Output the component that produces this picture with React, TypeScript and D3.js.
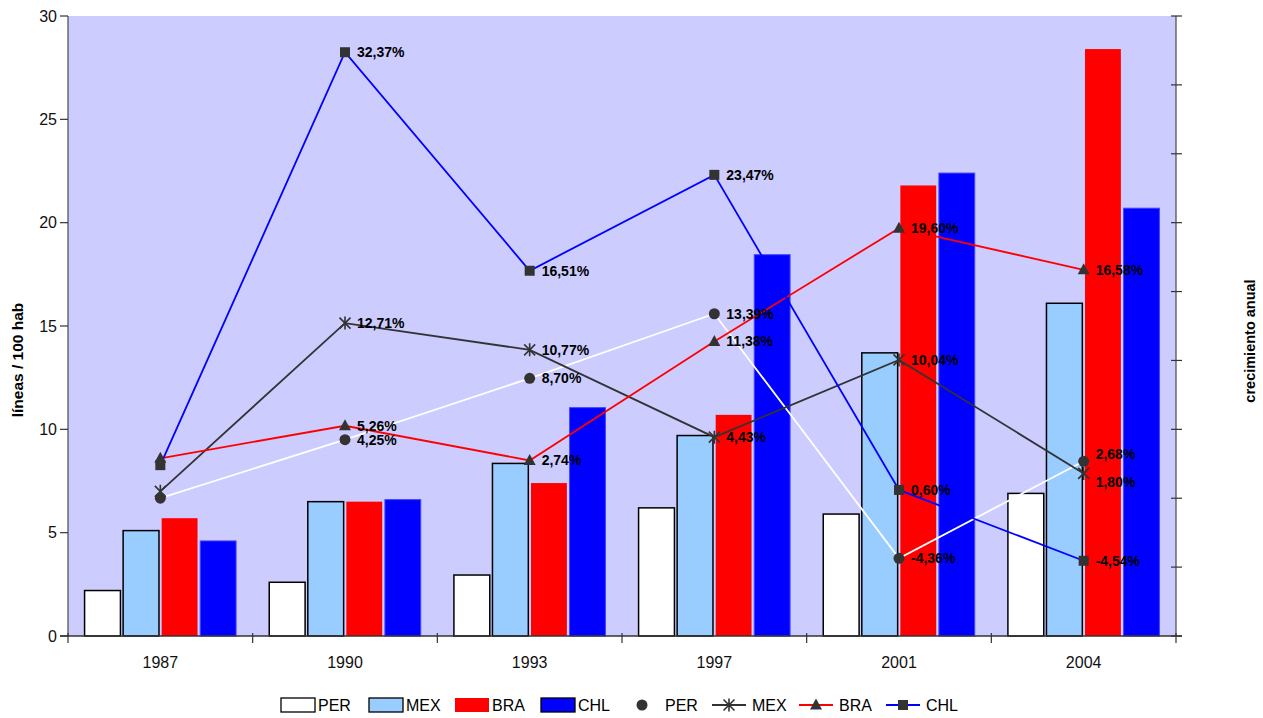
import React from "react";
import * as d3 from "d3";

// categories / series
const years = ["1987", "1990", "1993", "1997", "2001", "2004"];
const seriesNames = ["PER", "MEX", "BRA", "CHL"];

// lineas / 100 hab (bars, left axis)
const barPER = [2.2, 2.6, 2.95, 6.2, 5.9, 6.9];
const barMEX = [5.1, 6.5, 8.35, 9.7, 13.7, 16.1];
const barBRA = [5.7, 6.5, 7.4, 10.7, 21.8, 28.4];
const barCHL = [4.6, 6.6, 11.05, 18.45, 22.4, 20.7];

// crecimiento anual % (lines, right axis)
const grPER = [0, 4.25, 8.7, 13.39, -4.36, 2.68];
const grMEX = [0.5, 12.71, 10.77, 4.43, 10.04, 1.8];
const grBRA = [2.9, 5.26, 2.74, 11.38, 19.6, 16.58];
const grCHL = [2.4, 32.37, 16.51, 23.47, 0.6, -4.54];

const leftTicks = [0, 5, 10, 15, 20, 25, 30];
const rightTicks = [-10, -5, 0, 5, 10, 15, 20, 25, 30, 35];

const W = 1263;
const H = 718;
const m = { left: 68, right: 1176, top: 16, bottom: 636 };
const FONT = "Arial, 'Liberation Sans', sans-serif";

const barStyle: Record<string, { fill: string; stroke: string; sw: number }> = {
  PER: { fill: "#ffffff", stroke: "#000000", sw: 1.5 },
  MEX: { fill: "#99ccff", stroke: "#000000", sw: 1.5 },
  BRA: { fill: "#ff0000", stroke: "none", sw: 0 },
  CHL: { fill: "#0000ff", stroke: "#4444ff", sw: 1 },
};
const lineColor: Record<string, string> = {
  PER: "#ffffff",
  MEX: "#333333",
  BRA: "#ff0000",
  CHL: "#0000ff",
};
const MARK = "#333333";

function Marker({ kind, x, y }: { kind: string; x: number; y: number }) {
  if (kind === "PER") return <circle cx={x} cy={y} r={5.5} fill={MARK} />;
  if (kind === "BRA")
    return (
      <path
        d={`M${x},${y - 6.5}L${x + 6},${y + 4.5}L${x - 6},${y + 4.5}Z`}
        fill={MARK}
      />
    );
  if (kind === "CHL")
    return <rect x={x - 5} y={y - 5} width={10} height={10} fill={MARK} />;
  // MEX star
  const s = 5.5;
  return (
    <path
      d={`M${x - s},${y - s}L${x + s},${y + s}M${x - s},${y + s}L${x + s},${y - s}M${x},${y - s - 1}L${x},${y + s + 1}`}
      stroke={MARK}
      strokeWidth={1.6}
      fill="none"
    />
  );
}

export default function App() {
  const x0 = d3.scaleBand<string>().domain(years).range([m.left, m.right]);
  const x1 = d3
    .scaleBand<string>()
    .domain(seriesNames)
    .range([0, x0.bandwidth()])
    .paddingInner(0.07)
    .paddingOuter(0.43);
  const yL = d3.scaleLinear().domain([0, 30]).range([m.bottom, m.top]);
  const yR = d3.scaleLinear().domain([-10, 35]).range([m.bottom, m.top]);
  const cx = (yr: string) => (x0(yr) as number) + x0.bandwidth() / 2;

  const bars: Record<string, number[]> = {
    PER: barPER,
    MEX: barMEX,
    BRA: barBRA,
    CHL: barCHL,
  };
  const growth: Record<string, number[]> = {
    PER: grPER,
    MEX: grMEX,
    BRA: grBRA,
    CHL: grCHL,
  };
  // small nudges for overlapping labels (2004 PER / MEX)
  const labelDy: Record<string, number[]> = {
    PER: [0, 0, 0, 0, 0, -7],
    MEX: [0, 0, 0, 0, 0, 9],
    BRA: [0, 0, 0, 0, 0, 0],
    CHL: [0, 0, 0, 0, 0, 0],
  };

  const line = d3
    .line<number>()
    .x((_, i) => cx(years[i]))
    .y((d) => yR(d));

  const fmt = (v: number) => v.toFixed(2).replace(".", ",") + "%";

  const boundaries = years.map((y) => x0(y) as number).concat([m.right]);

  // legend layout
  const legY = 705;
  const legBars = [
    { k: "PER", x: 281 },
    { k: "MEX", x: 369 },
    { k: "BRA", x: 455 },
    { k: "CHL", x: 541 },
  ];
  const legLines = [
    { k: "PER", x: 625 },
    { k: "MEX", x: 712 },
    { k: "BRA", x: 799 },
    { k: "CHL", x: 886 },
  ];

  return (
    <div style={{ position: "absolute", left: 0, top: 0 }}>
      <svg width={W} height={H} style={{ display: "block", fontFamily: FONT }}>
        <rect width={W} height={H} fill="#ffffff" />
        <rect
          x={m.left}
          y={m.top}
          width={m.right - m.left}
          height={m.bottom - m.top}
          fill="#ccccff"
        />

        {/* bars */}
        {years.map((yr, i) => (
          <g key={yr}>
            {seriesNames.map((s) => {
              const v = bars[s][i];
              const st = barStyle[s];
              return (
                <rect
                  key={s}
                  x={(x0(yr) as number) + (x1(s) as number)}
                  y={yL(v)}
                  width={x1.bandwidth()}
                  height={yL(0) - yL(v)}
                  fill={st.fill}
                  stroke={st.stroke}
                  strokeWidth={st.sw}
                />
              );
            })}
          </g>
        ))}

        {/* lines */}
        {seriesNames.map((s) => (
          <path
            key={s}
            d={line(growth[s]) as string}
            fill="none"
            stroke={lineColor[s]}
            strokeWidth={1.8}
          />
        ))}

        {/* markers */}
        {seriesNames.map((s) =>
          growth[s].map((v, i) => (
            <Marker key={s + i} kind={s} x={cx(years[i])} y={yR(v)} />
          ))
        )}

        {/* labels (1987 not labelled) */}
        {seriesNames.map((s) =>
          growth[s].map((v, i) =>
            i === 0 ? null : (
              <text
                key={s + "l" + i}
                x={cx(years[i]) + 12}
                y={yR(v) + labelDy[s][i]}
                dy="0.35em"
                fontSize={14}
                fontWeight="bold"
                fill="#000000"
              >
                {fmt(v)}
              </text>
            )
          )
        )}

        {/* left axis */}
        <line x1={m.left} x2={m.left} y1={m.top} y2={m.bottom} stroke="#555" strokeWidth={1.3} />
        {leftTicks.map((t) => (
          <g key={t}>
            <line x1={m.left - 8} x2={m.left} y1={yL(t)} y2={yL(t)} stroke="#333" strokeWidth={1.2} />
            <text x={m.left - 11} y={yL(t)} dy="0.35em" textAnchor="end" fontSize={16} fill="#111">
              {t}
            </text>
          </g>
        ))}

        {/* right axis */}
        <line x1={m.right} x2={m.right} y1={m.top} y2={m.bottom} stroke="#555" strokeWidth={1.3} />
        {rightTicks.map((t) => (
          <line key={t} x1={m.right - 5} x2={m.right + 6} y1={yR(t)} y2={yR(t)} stroke="#333" strokeWidth={1.2} />
        ))}

        {/* bottom axis */}
        <line x1={m.left - 8} x2={m.right + 6} y1={m.bottom} y2={m.bottom} stroke="#333" strokeWidth={1.3} />
        {boundaries.map((b, i) => (
          <line key={i} x1={b} x2={b} y1={m.bottom - 3} y2={m.bottom + 7} stroke="#333" strokeWidth={1.2} />
        ))}
        {years.map((yr) => (
          <text key={yr} x={cx(yr)} y={668} textAnchor="middle" fontSize={16} fill="#111">
            {yr}
          </text>
        ))}

        {/* axis titles */}
        <text
          transform={`translate(23,${(m.top + m.bottom) / 2 + 34}) rotate(-90)`}
          textAnchor="middle"
          fontSize={15.5}
          fontWeight="bold"
        >
          líneas / 100 hab
        </text>
        <text
          transform={`translate(1255,341) rotate(-90)`}
          textAnchor="middle"
          fontSize={14.5}
          fontWeight="bold"
        >
          crecimiento anual
        </text>

        {/* legend */}
        {legBars.map((l) => (
          <g key={"lb" + l.k}>
            <rect
              x={l.x}
              y={legY - 7}
              width={34}
              height={14}
              fill={barStyle[l.k].fill}
              stroke={barStyle[l.k].stroke === "none" ? "none" : "#000"}
              strokeWidth={barStyle[l.k].stroke === "none" ? 0 : 1.3}
            />
            <text x={l.x + 37} y={legY} dy="0.35em" fontSize={16}>
              {l.k}
            </text>
          </g>
        ))}
        {legLines.map((l) => (
          <g key={"ll" + l.k}>
            {l.k !== "PER" && (
              <line
                x1={l.x}
                x2={l.x + 34}
                y1={legY}
                y2={legY}
                stroke={lineColor[l.k]}
                strokeWidth={1.8}
              />
            )}
            <Marker kind={l.k} x={l.x + 17} y={legY} />
            <text x={l.x + 40} y={legY} dy="0.35em" fontSize={16}>
              {l.k}
            </text>
          </g>
        ))}
      </svg>
    </div>
  );
}
